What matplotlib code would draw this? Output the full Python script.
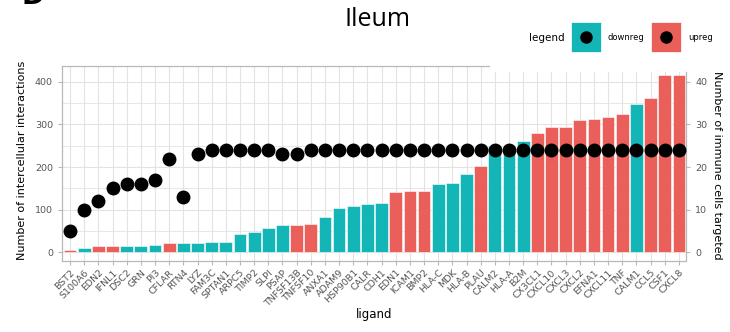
import matplotlib
matplotlib.use("Agg")
import matplotlib.pyplot as plt
from matplotlib.patches import Rectangle
from matplotlib.lines import Line2D
import numpy as np

ligands = ["BST2", "S100A6", "EDN2", "IFNL1", "DSC2", "GRN", "PI3", "CFLAR", "RTN4",
           "LYZ", "FAM3C", "SPTAN1", "ARPC5", "TIMP2", "SLPI", "PSAP", "TNFSF13B",
           "TNFSF10", "ANXA1", "ADAM9", "HSP90B1", "CALR", "CDH1", "EDN1", "ICAM1",
           "BMP2", "HLA-C", "MDK", "HLA-B", "PLAU", "CALM2", "HLA-A", "B2M", "CX3CL1",
           "CXCL10", "CXCL3", "CXCL2", "EFNA1", "CXCL11", "TNF", "CALM1", "CCL5",
           "CSF1", "CXCL8"]
interactions = [5, 10, 15, 16, 16, 16, 17, 23, 23, 23, 25, 25, 43, 47, 57, 64, 65,
                67, 83, 104, 110, 114, 117, 142, 143, 145, 161, 162, 185, 202, 250,
                250, 261, 280, 295, 295, 310, 313, 317, 324, 347, 363, 415, 417]
cells_targeted = [5, 10, 12, 15, 16, 16, 17, 22, 13, 23, 24, 24, 24, 24, 24, 23, 23,
                  24, 24, 24, 24, 24, 24, 24, 24, 24, 24, 24, 24, 24, 24, 24, 24, 24,
                  24, 24, 24, 24, 24, 24, 24, 24, 24, 24]
regulation = ["upreg", "downreg", "upreg", "upreg", "downreg", "downreg", "downreg",
              "upreg", "downreg", "downreg", "downreg", "downreg", "downreg", "downreg",
              "downreg", "downreg", "upreg", "upreg", "downreg", "downreg", "downreg",
              "downreg", "downreg", "upreg", "upreg", "upreg", "downreg", "downreg",
              "downreg", "upreg", "downreg", "downreg", "downreg", "upreg", "upreg",
              "upreg", "upreg", "upreg", "upreg", "upreg", "downreg", "upreg", "upreg",
              "upreg"]

colors = {"downreg": "#14B5B7", "upreg": "#EA5F59"}
grid_c = "#E3E3E3"
border_c = "#B8B8B8"
tick_c = "#555555"

fig = plt.figure(figsize=(7.3, 3.32), dpi=100)
ax = fig.add_axes([62 / 730, 1 - 261 / 332, 624 / 730, 195 / 332])

x = np.arange(len(ligands))
ax.bar(x, interactions, width=0.9, color=[colors[r] for r in regulation],
       edgecolor="white", linewidth=0.4, zorder=2)

# second y scale is interactions / 10, so dots are plotted on the primary axis
ax.plot(x, np.array(cells_targeted) * 10, "o", color="black", ms=9, zorder=3)

ax.set_xlim(-0.57, 43.5)
ax.set_ylim(-20, 437)
ax.set_yticks([0, 100, 200, 300, 400])
ax.set_yticks([50, 150, 250, 350], minor=True)
ax.set_xticks(x)
ax.set_xticklabels(ligands, rotation=45, ha="right", rotation_mode="anchor",
                   fontsize=6.8, color=tick_c)
ax.tick_params(axis="y", labelsize=6.8, labelcolor=tick_c, color=border_c, length=3)
ax.tick_params(axis="x", color=border_c, length=3, pad=2)
ax.tick_params(axis="y", which="minor", length=0)
ax.grid(True, which="major", color=grid_c, lw=0.8, zorder=0)
ax.grid(True, which="minor", axis="y", color=grid_c, lw=0.6, zorder=0)
ax.set_axisbelow(True)
for s in ax.spines.values():
    s.set_color(border_c)
    s.set_linewidth(0.9)

ax.set_xlabel("ligand", fontsize=8.5, labelpad=0)

ax2 = ax.twinx()
ax2.set_ylim(-2.0, 43.7)
ax2.set_yticks([0, 10, 20, 30, 40])
ax2.tick_params(axis="y", labelsize=6.8, labelcolor=tick_c, color=border_c, length=3)
for s in ax2.spines.values():
    s.set_visible(False)

# axis titles placed in figure pixels
fig.text(22 / 730, 1 - 160 / 332, "Number of intercellular interactions",
         fontsize=8, rotation=90, ha="center", va="center")
fig.text(717 / 730, 1 - 165 / 332, "Number of immune cells targeted",
         fontsize=8, rotation=-90, ha="center", va="center")

# white header band over the top right of the panel
fig.patches.append(Rectangle((490 / 730, 1 - 72 / 332), 240 / 730, 72 / 332,
                             transform=fig.transFigure, facecolor="white",
                             edgecolor="none", zorder=5))

fig.text(377 / 730, 1 - 20 / 332, "Ileum", fontsize=18, family="Open Sans",
         ha="center", va="center")
fig.text(22 / 730, 1 - 4 / 332, "D", fontsize=20, fontweight="bold",
         ha="left", va="baseline")

# legend
fig.text(565 / 730, 1 - 38 / 332, "legend", fontsize=7.5, ha="right", va="center",
         zorder=6)
for lab, xk in [("downreg", 571), ("upreg", 651)]:
    fig.patches.append(Rectangle((xk / 730, 1 - 52 / 332), 30 / 730, 30 / 332,
                                 transform=fig.transFigure, facecolor=colors[lab],
                                 edgecolor="white", lw=0.5, zorder=6))
    fig.lines.append(Line2D([(xk + 15) / 730], [1 - 37 / 332], marker="o",
                            color="black", ms=8, transform=fig.transFigure, zorder=7))
    fig.text((xk + 37) / 730, 1 - 38 / 332, lab, fontsize=6, ha="left",
             va="center", zorder=6)

fig.savefig("out.png", dpi=100)
